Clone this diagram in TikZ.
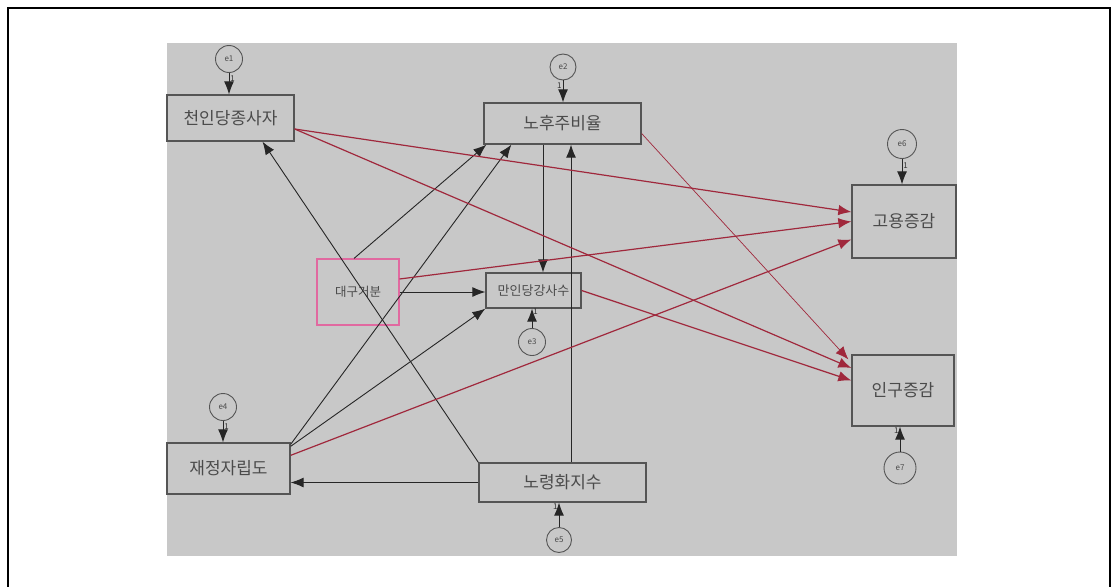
\documentclass[tikz,border=0pt]{standalone}
\usepackage{fontspec}
\newfontfamily\kr{Noto Sans CJK KR}
\usetikzlibrary{arrows.meta,calc}
\definecolor{bggray}{RGB}{200,200,200}
\definecolor{boxline}{RGB}{85,85,85}
\definecolor{txt}{RGB}{75,75,75}
\definecolor{pathred}{RGB}{160,40,60}
\definecolor{pinkline}{RGB}{225,105,160}
\tikzset{
  var/.style={draw=boxline, line width=1.3pt, fill=bggray, inner sep=0pt, text=txt, font=\kr\fontsize{17}{17}\selectfont},
  smallvar/.style={var, font=\kr\fontsize{12.5}{13}\selectfont},
  err/.style={circle, draw=boxline, line width=0.9pt, fill=bggray, inner sep=0pt, text=txt, font=\kr\fontsize{8}{8}\selectfont},
  arr/.style={draw=black!85, line width=0.9pt, -{Latex[length=13pt,width=10pt]}},
  redarr/.style={draw=pathred, line width=1.2pt, -{Latex[length=13pt,width=10.5pt]}, color=pathred},
  onelab/.style={font=\kr\fontsize{8}{8}\selectfont, text=black!80, inner sep=1pt}
}
\begin{document}
\begin{tikzpicture}[x=1pt,y=-1pt]
\useasboundingbox (0,0) rectangle (1118,586);
\fill[white] (0,0) rectangle (1118,586);
\draw[line width=2.5pt] (8,600) -- (8,8) -- (1110,8) -- (1110,600);
\fill[bggray] (167,43) rectangle (957,556);

% variables
\node[var, minimum width=127pt, minimum height=46pt] (A) at (230.5,118) {천인당종사자};
\node[var, minimum width=157pt, minimum height=41pt] (B) at (562.5,123.5) {노후주비율};
\node[smallvar, draw=pinkline, line width=1.1pt, minimum width=82pt, minimum height=66pt] (C) at (358,292) {대구거분};
\node[smallvar, font=\kr\fontsize{13}{13}\selectfont, minimum width=95pt, minimum height=35pt] (D) at (533.5,290.5) {만인당강사수};
\node[var, minimum width=104pt, minimum height=73pt] (E) at (904,221.5) {고용증감};
\node[var, minimum width=102pt, minimum height=71pt] (F) at (903,390.5) {인구증감};
\node[var, minimum width=123pt, minimum height=51pt] (G) at (228.5,468.5) {재정자립도};
\node[var, minimum width=167pt, minimum height=39pt] (H) at (562.5,482.5) {노령화지수};

% error terms
\node[err, minimum size=27pt] (e1) at (229,59) {e1};
\node[err, minimum size=26pt] (e2) at (563,67) {e2};
\node[err, minimum size=27pt] (e3) at (532,342) {e3};
\node[err, minimum size=27pt] (e4) at (223,407) {e4};
\node[err, minimum size=25pt] (e5) at (559,540) {e5};
\node[err, minimum size=29pt] (e6) at (902,144) {e6};
\node[err, minimum size=32pt] (e7) at (900,468) {e7};

% error arrows
\draw[arr] (e1) -- (e1 |- A.north) node[pos=0.25, right, onelab] {1};
\draw[arr] (e2) -- (e2 |- B.north) node[pos=0.25, left, onelab] {1};
\draw[arr] (e3) -- (e3 |- D.south) node[pos=0.85, right, onelab] {1};
\draw[arr] (e4) -- (e4 |- G.north) node[pos=0.25, right, onelab] {1};
\draw[arr] (e5) -- (e5 |- H.south) node[pos=0.85, left, onelab] {1};
\draw[arr] (e6) -- (e6 |- E.north) node[pos=0.25, right, onelab] {1};
\draw[arr] (e7) -- (e7 |- F.south) node[pos=0.85, left, onelab] {1};

% black paths
\draw[arr] (H.north west) -- ([xshift=32pt]A.south);
\draw[arr] (H.west) -- (H.west -| G.east);
\draw[arr] ([xshift=8.5pt]H.north) -- ([xshift=8.5pt]B.south);
\draw[arr] ([xshift=-19.5pt]B.south) -- ([xshift=-19.5pt]B.south |- D.north);
\draw[arr] (C.east) -- (C.east -| D.west);
\draw[arr] ([xshift=-4pt]C.north) -- ([xshift=3pt]B.south west);
\draw[arr] ([yshift=-2pt]G.north east) -- ([xshift=28pt]B.south west);
\draw[arr] ([yshift=-4pt]G.north east) -- (D.south west);

% red paths
\draw[redarr] ([yshift=-11pt]A.east) -- ([yshift=9.5pt]E.west);
\draw[redarr] ([yshift=-11pt]A.east) -- ([yshift=22.5pt]F.west);
\draw[redarr] ([yshift=13pt]C.east) -- (E.west);
\draw[redarr] ([yshift=-13pt]G.north east) -- ([yshift=-18pt]E.west);
\draw[redarr] (D.east) -- ([yshift=10pt]F.west);
\draw[redarr, line width=0.7pt] ([yshift=-10pt]B.east) -- ([shift={(-3pt,-5pt)}]F.north west);
\end{tikzpicture}
\end{document}
